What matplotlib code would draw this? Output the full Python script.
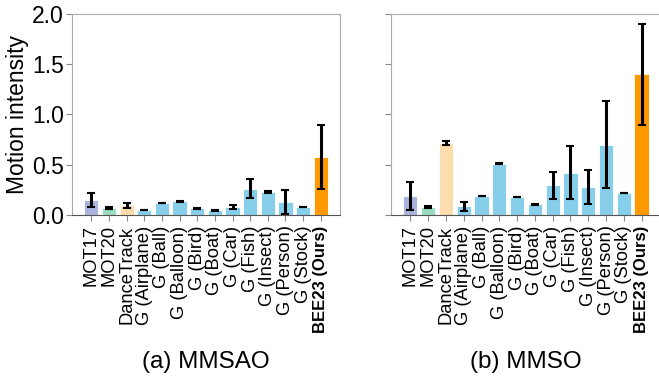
import numpy as np
import matplotlib
matplotlib.use("Agg")
import matplotlib.pyplot as plt

plt.rcParams["font.family"] = ["Liberation Sans", "DejaVu Sans"]

labels = ["MOT17", "MOT20", "DanceTrack", "G (Airplane)", "G (Ball)", "G (Balloon)",
          "G (Bird)", "G (Boat)", "G (Car)", "G (Fish)", "G (Insect)", "G (Person)",
          "G (Stock)", "BEE23 (Ours)"]

# (a) MMSAO
mmsao_mean = [0.15, 0.07, 0.095, 0.05, 0.12, 0.135, 0.065, 0.045, 0.08, 0.26, 0.225, 0.13, 0.08, 0.577]
mmsao_std = [0.07, 0.01, 0.025, 0.003, 0.003, 0.003, 0.003, 0.003, 0.02, 0.095, 0.01, 0.117, 0.003, 0.315]

# (b) MMSO
mmso_mean = [0.19, 0.08, 0.713, 0.087, 0.19, 0.51, 0.18, 0.105, 0.295, 0.42, 0.28, 0.70, 0.22, 1.40]
mmso_std = [0.14, 0.006, 0.02, 0.045, 0.003, 0.003, 0.003, 0.003, 0.137, 0.265, 0.17, 0.43, 0.003, 0.50]

colors = ["#aab3dc", "#99dcbf", "#fddcae"] + ["#87ceeb"] * 10 + ["#ff9900"]

fig = plt.figure(figsize=(6.59, 3.81), dpi=100)
ax1 = fig.add_axes([0.1093, 0.4357, 0.4067, 0.5276])
ax2 = fig.add_axes([0.5933, 0.4357, 0.4097, 0.5276])

x = np.arange(len(labels))
for ax, mean, std, title in [(ax1, mmsao_mean, mmsao_std, "(a) MMSAO"),
                             (ax2, mmso_mean, mmso_std, "(b) MMSO")]:
    ax.bar(x, mean, width=0.8, color=colors, edgecolor="white", linewidth=0.6,
           yerr=std, error_kw=dict(ecolor="black", elinewidth=2.2, capsize=3, capthick=1.5))
    ax.set_ylim(0, 2.0)
    ax.set_yticks([0, 0.5, 1.0, 1.5, 2.0])
    ax.set_xticks(x)
    ax.set_xticklabels(labels, rotation=90, fontsize=13.2)
    last = ax.get_xticklabels()[-1]
    last.set_fontweight("bold")
    last.set_fontsize(12)
    for s in ax.spines.values():
        s.set_color("#aaaaaa")
    ax.spines["bottom"].set_color("#555555")
    ax.tick_params(axis="both", colors="#888888", length=4, width=0.8, labelcolor="black")
    ax.tick_params(axis="y", labelsize=16.5, pad=2)
    ax.text(0.5, -0.73, title, transform=ax.transAxes, ha="center", va="center",
            fontsize=17.5)

ax1.set_ylabel("Motion intensity", fontsize=16.5, labelpad=2)
ax2.set_yticklabels([])

fig.savefig("out.png", dpi=100)
